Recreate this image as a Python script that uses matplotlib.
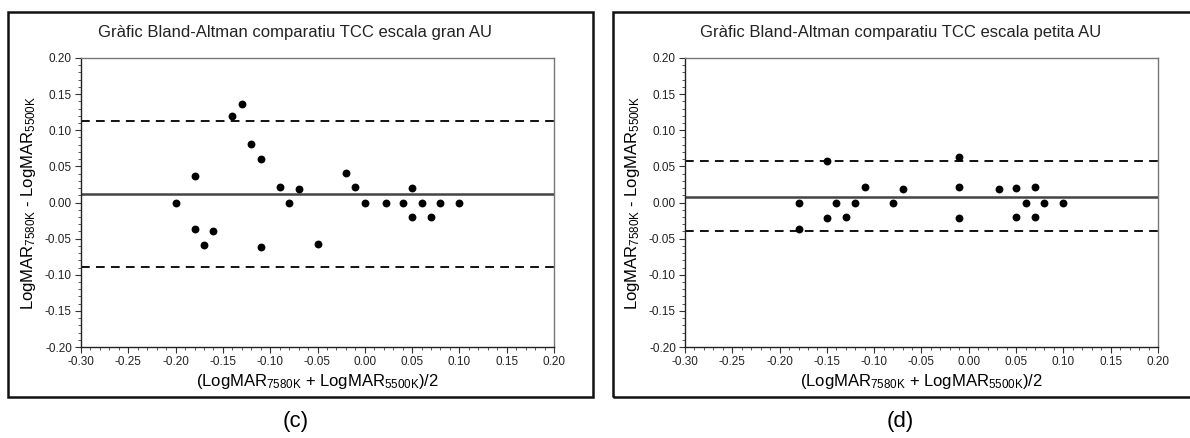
import matplotlib
matplotlib.use("Agg")
import matplotlib.pyplot as plt
from matplotlib.patches import Rectangle
from matplotlib.ticker import MultipleLocator, FormatStrFormatter

plt.rcParams['font.family'] = ['Liberation Sans', 'DejaVu Sans']
plt.rcParams['mathtext.default'] = 'regular'

# ---- data ----
titles = ["Gràfic Bland-Altman comparatiu TCC escala gran AU",
          "Gràfic Bland-Altman comparatiu TCC escala petita AU"]
panel_labels = ["(c)", "(d)"]

c_mean = [-0.20, -0.18, -0.18, -0.17, -0.16, -0.14, -0.13, -0.12, -0.11, -0.11,
          -0.09, -0.08, -0.07, -0.05, -0.02, -0.01, 0.00, 0.022, 0.04, 0.05,
          0.05, 0.06, 0.07, 0.08, 0.10]
c_diff = [0.0, 0.037, -0.037, -0.059, -0.040, 0.120, 0.137, 0.081, 0.060, -0.061,
          0.021, 0.0, 0.018, -0.058, 0.041, 0.021, 0.0, 0.0, 0.0, 0.020,
          -0.020, 0.0, -0.020, 0.0, 0.0]
c_bias, c_upper, c_lower = 0.012, 0.113, -0.089

d_mean = [-0.18, -0.18, -0.15, -0.15, -0.14, -0.13, -0.12, -0.11, -0.08, -0.07,
          -0.01, -0.01, -0.01, 0.032, 0.05, 0.05, 0.06, 0.07, 0.07, 0.08, 0.10]
d_diff = [0.0, -0.037, 0.058, -0.022, 0.0, -0.020, 0.0, 0.021, 0.0, 0.018,
          0.063, 0.021, -0.021, 0.018, 0.020, -0.020, 0.0, 0.021, -0.020, 0.0, 0.0]
d_bias, d_upper, d_lower = 0.008, 0.057, -0.040

xlim = (-0.30, 0.20)
ylim = (-0.20, 0.20)

W, H = 1190, 438
fig = plt.figure(figsize=(W / 100, H / 100), dpi=100)
fig.patch.set_facecolor('white')

def fx(px):
    return px / W

def fy(py):
    return 1 - py / H

panels = [
    dict(ax_left=81, box_left=8, x=c_mean, y=c_diff, bias=c_bias, up=c_upper, lo=c_lower),
    dict(ax_left=685, box_left=613, x=d_mean, y=d_diff, bias=d_bias, up=d_upper, lo=d_lower),
]
ax_w, ax_top, ax_bot = 473, 58, 347
box_w, box_top, box_bot = 585, 12, 397

for i, p in enumerate(panels):
    # outer frame
    fig.add_artist(Rectangle((fx(p['box_left']), fy(box_bot)), fx(box_w), (box_bot - box_top) / H,
                             transform=fig.transFigure, fill=False, edgecolor='#111111',
                             linewidth=1.8, clip_on=False))
    ax = fig.add_axes([fx(p['ax_left']), fy(ax_bot), fx(ax_w), (ax_bot - ax_top) / H])
    ax.set_xlim(*xlim)
    ax.set_ylim(*ylim)
    ax.axhline(p['bias'], color='#444444', lw=1.8, zorder=2)
    ax.axhline(p['up'], color='#111111', lw=1.4, ls=(0, (4.5, 3.2)), zorder=2)
    ax.axhline(p['lo'], color='#111111', lw=1.4, ls=(0, (4.5, 3.2)), zorder=2)
    ax.scatter(p['x'], p['y'], s=32, color='black', zorder=3, linewidths=0)

    ax.xaxis.set_major_locator(MultipleLocator(0.05))
    ax.xaxis.set_minor_locator(MultipleLocator(0.01))
    ax.yaxis.set_major_locator(MultipleLocator(0.05))
    ax.yaxis.set_minor_locator(MultipleLocator(0.01))
    ax.xaxis.set_major_formatter(FormatStrFormatter('%.2f'))
    ax.yaxis.set_major_formatter(FormatStrFormatter('%.2f'))
    ax.tick_params(which='major', direction='out', length=4, width=0.8, colors='#333333',
                   labelsize=8.5, labelcolor='#222222', pad=2.5)
    ax.tick_params(which='minor', direction='out', length=2.5, width=0.7, colors='#555555')
    for s in ['top', 'right']:
        ax.spines[s].set_color('#777777')
        ax.spines[s].set_linewidth(1.0)
    for s in ['left', 'bottom']:
        ax.spines[s].set_color('#222222')
        ax.spines[s].set_linewidth(1.0)

    ax.set_xlabel(r'(LogMAR$_{7580K}$ + LogMAR$_{5500K}$)/2', fontsize=12, labelpad=3)
    ax.set_ylabel(r'LogMAR$_{7580K}$ - LogMAR$_{5500K}$', fontsize=12, labelpad=5)

    cx = p['box_left'] + box_w / 2 - 5
    fig.text(fx(cx), fy(32), titles[i], ha='center', va='center', fontsize=12, color='#222222')
    fig.text(fx(cx), fy(422), panel_labels[i], ha='center', va='center', fontsize=16, color='black')

fig.savefig('out.png', dpi=100, facecolor='white')
